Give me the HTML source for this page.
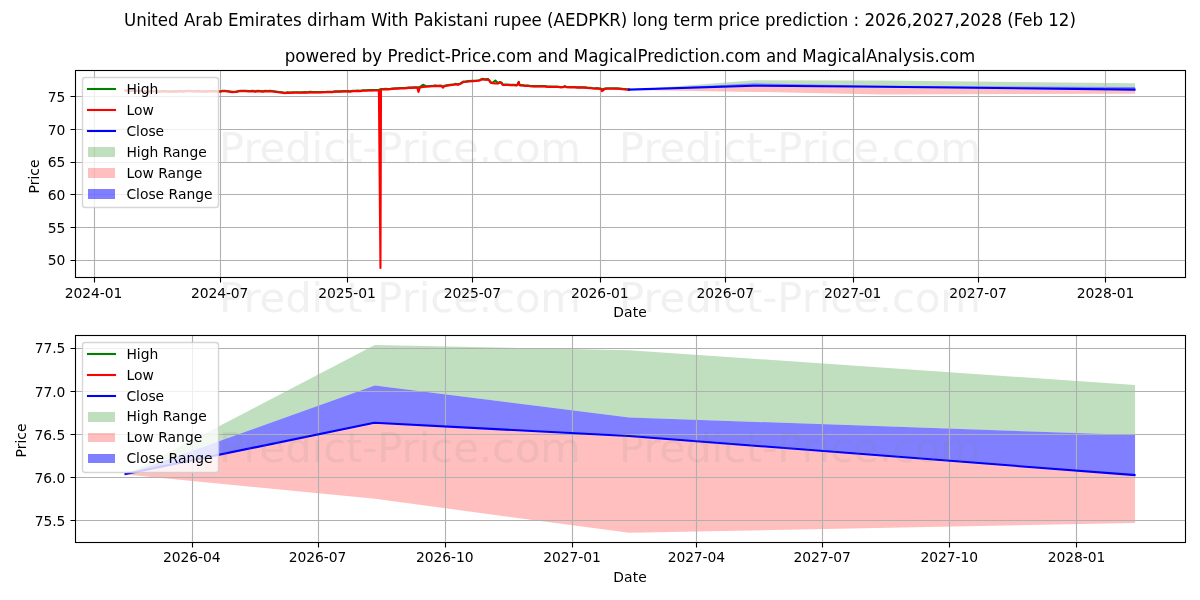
<!DOCTYPE html>
<html lang="en"><head><meta charset="utf-8">
<title>United Arab Emirates dirham With Pakistani rupee (AEDPKR) long term price prediction</title>
<style>html,body{margin:0;padding:0;background:#fff;width:1200px;height:600px;overflow:hidden}svg{display:block;will-change:transform;filter:opacity(1);font-family:"DejaVu Sans","Liberation Sans",sans-serif}text{fill:#000}.tk{font-size:13.889px}.tt{font-size:16.667px}.wm{font-size:41.667px;fill:#808080;fill-opacity:.11}.sp{stroke:#000;stroke-width:1.111;fill:none;stroke-linecap:square}.gr{stroke:#b0b0b0;stroke-width:1.111;fill:none}.ln{fill:none;stroke-width:2.083;stroke-linejoin:round;stroke-linecap:square}</style></head><body>
<svg width="1200" height="600" viewBox="0 0 1200 600">
<rect width="1200" height="600" fill="#fff"/>
<clipPath id="ctop"><rect x="75.03" y="70.33" width="1109.97" height="206.56"/></clipPath>
<g clip-path="url(#ctop)">
<g transform="translate(.5 .5)">
<polygon points="628.98,89.56 753.64,79.72 881.07,80.11 1134.55,82.76 1134.55,86.57 881.07,85.22 753.64,82.8 628.98,89.56" fill="#008000" fill-opacity=".25"/>
<polygon points="628.98,89.56 753.64,85.67 881.07,86.67 1134.55,89.64 1134.55,93.24 881.07,93.99 753.64,91.41 628.98,89.56" fill="#ff0000" fill-opacity=".25"/>
<polygon points="628.98,89.56 753.64,82.8 881.07,85.22 1134.55,86.57 1134.55,89.64 881.07,86.67 753.64,85.67 628.98,89.56" fill="#0000ff" fill-opacity=".5"/>
</g>
<path class="gr" d="M94.5 70.33V276.89M220.5 70.33V276.89M347.5 70.33V276.89M472.5 70.33V276.89M600.5 70.33V276.89M725.5 70.33V276.89M853.5 70.33V276.89M978.5 70.33V276.89M1105.5 70.33V276.89M75.03 260.5H1185M75.03 227.5H1185M75.03 194.5H1185M75.03 162.5H1185M75.03 129.5H1185M75.03 96.5H1185"/>
<polyline class="ln" stroke="#008000" points="125.5,90.18 127.75,90.2 130,90.23 132.5,90.6 135,90.49 137.33,90.8 139.67,90.82 142,90.79 144.67,91.05 147.33,90.91 150,91.15 152.5,91.02 155,91.05 157.5,91.22 160,91.42 162.5,91.09 165,91.11 167.5,91.26 170,91.38 172.5,91.19 175,91.08 177.5,91.31 180,90.88 182.5,91.21 185,90.94 187.5,90.85 190,90.81 192.5,90.92 195,91.17 197.5,90.91 200,91.12 202.5,91.17 205,91.07 207.5,91.18 210,90.99 212.67,90.99 215.33,91.05 218,91.26 220,91.25 222.5,90.9 225,90.82 228,91.16 232,91.69 236,91.61 238.5,91.07 240,90.67 243,90.81 246,90.79 248.25,91 250.5,90.98 252.75,90.84 255,91.19 257.67,90.85 260.33,91.01 263,91.19 265.33,90.89 267.67,91.01 270,90.78 274,91.25 278,91.9 282,92.31 285,92.75 287.5,92.4 290,92.47 292.5,92.37 295,92.32 297.33,92.23 299.67,92.36 302,92.38 304.67,92.14 307.33,92.19 310,91.89 313,92.12 316,92.04 319,92.1 322,91.92 326,91.89 330,91.73 332.5,91.7 335,91.27 338,91.41 341,91.23 344,91.16 347,91.09 350,91.2 353,90.72 355.33,90.67 357.67,90.63 360,90.74 363,90.25 366,90.26 369,90.15 372,90.15 375.25,90.07 378.5,90.04 381.2,89.08 383.47,89.01 385.73,88.85 388,88.95 390.33,88.88 392.67,88.43 395,88.34 397.33,88.23 399.67,88.1 402,88.07 404.33,87.99 406.67,87.71 409,87.46 412,87.44 415,87.22 417.3,87.41 419.8,87.18 423,84.78 426,86.29 430,86.03 432.5,85.91 435,85.48 437.5,85.71 440,85.5 441.8,85.84 443,87.21 444.3,85.73 447,85.24 450,84.91 452.65,84.64 455.3,83.89 458,84.39 460,83.65 463.3,81.63 466,81.41 469,81.08 472.7,80.86 476,80.63 478.5,80.3 480,80.02 482,78.87 485,79.34 488,79.13 489.3,80.23 490.7,82.37 492.7,82.71 495.3,80.64 498,83.11 499,82.53 500,82 501.3,82.47 502.7,84.47 505,84.5 507.5,84.55 510,84.71 514,84.88 516.7,85.12 517.8,84.03 518.7,81.77 519.5,84.58 520.3,85.09 522.65,85.12 525,85.5 527.5,85.42 530,85.79 532.5,86.09 535,86.14 537.5,86.12 540,85.97 542.5,86.12 545,86.13 547.5,86.5 550,86.49 552.5,86.65 555,86.51 557.5,86.56 560,86.92 563.5,86.79 564.8,86.04 566,86.71 570,86.92 572.5,87.04 575,86.96 577.5,87.19 580,87.22 582.5,87.22 585,87.37 587.5,87.58 590,87.67 592.5,88.01 595,88.28 597.5,88.16 600,88.47 601.3,88.79 602,89.6 605,88.48 607.5,88.27 610,88.26 612.5,88.31 615,88.35 617.5,88.4 620,88.63 622.5,88.91 625,89.03 628.98,89.34"/>
<polyline class="ln" stroke="#ff0000" points="125.5,90.6 127.75,90.62 130,90.65 132.5,91.02 135,90.91 137.33,91.22 139.67,91.24 142,91.21 144.67,91.47 147.33,91.33 150,91.57 152.5,91.44 155,91.47 157.5,91.64 160,91.84 162.5,91.51 165,91.53 167.5,91.68 170,91.8 172.5,91.61 175,91.5 177.5,91.73 180,91.3 182.5,91.63 185,91.36 187.5,91.27 190,91.23 192.5,91.34 195,91.59 197.5,91.33 200,91.54 202.5,91.59 205,91.49 207.5,91.6 210,91.41 212.67,91.41 215.33,91.47 218,91.68 220,91.67 222.5,91.32 225,91.24 228,91.58 232,92.11 236,92.03 238.5,91.49 240,91.09 243,91.23 246,91.21 248.25,91.42 250.5,91.4 252.75,91.26 255,91.61 257.67,91.27 260.33,91.43 263,91.61 265.33,91.31 267.67,91.43 270,91.2 274,91.67 278,92.32 282,92.73 285,93.17 287.5,92.82 290,92.89 292.5,92.79 295,92.74 297.33,92.65 299.67,92.78 302,92.8 304.67,92.56 307.33,92.61 310,92.31 313,92.54 316,92.46 319,92.52 322,92.34 326,92.31 330,92.15 332.5,92.12 335,91.69 338,91.83 341,91.65 344,91.58 347,91.51 350,91.62 353,91.14 355.33,91.09 357.67,91.05 360,91.16 363,90.67 366,90.68 369,90.57 372,90.57 375.25,90.49 378.5,90.46 378.9,90.5 380.45,267.9 381,89.7 381.2,89.5 383.47,89.43 385.73,89.27 388,89.37 390.33,89.3 392.67,88.85 395,88.76 397.33,88.65 399.67,88.52 402,88.49 404.33,88.41 406.67,88.13 409,87.88 412,87.86 415,87.64 417.3,87.83 418.5,92 419.8,87.6 423,86.88 426,86.71 430,86.45 432.5,86.33 435,85.9 437.5,86.13 440,85.92 441.8,86.26 443,87.63 444.3,86.15 447,85.66 450,85.33 452.65,85.06 455.3,84.31 458,84.81 460,84.07 463.3,82.05 466,81.83 469,81.5 472.7,81.28 476,81.05 478.5,80.72 480,80.44 482,79.29 485,79.76 488,79.55 489.3,80.65 490.7,82.79 492.7,83.13 495.3,83.44 498,83.53 499,82.95 500,82.42 501.3,82.89 502.7,84.89 505,84.92 507.5,84.97 510,85.13 514,85.3 516.7,85.54 517.8,84.45 518.7,82.19 519.5,85 520.3,85.51 522.65,85.54 525,85.92 527.5,85.84 530,86.21 532.5,86.51 535,86.56 537.5,86.54 540,86.39 542.5,86.54 545,86.55 547.5,86.92 550,86.91 552.5,87.07 555,86.93 557.5,86.98 560,87.34 563.5,87.21 564.8,86.46 566,87.13 570,87.34 572.5,87.46 575,87.38 577.5,87.61 580,87.64 582.5,87.64 585,87.79 587.5,88 590,88.09 592.5,88.43 595,88.7 597.5,88.58 600,88.89 601.3,89.21 602,91.2 605,88.9 607.5,88.69 610,88.68 612.5,88.73 615,88.77 617.5,88.82 620,89.05 622.5,89.33 625,89.45 628.98,89.76"/>
<polyline class="ln" stroke="#0000ff" points="628.98,89.56 753.64,85.67 881.07,86.67 1134.55,89.64"/>
</g>
<path d="M94.5 277.5v5M220.5 277.5v5M347.5 277.5v5M472.5 277.5v5M600.5 277.5v5M725.5 277.5v5M853.5 277.5v5M978.5 277.5v5M1105.5 277.5v5M75.5 260.5h-5M75.5 227.5h-5M75.5 194.5h-5M75.5 162.5h-5M75.5 129.5h-5M75.5 96.5h-5" stroke="#000" stroke-width="1.111" fill="none"/>
<rect class="sp" x="75.5" y="70.5" width="1110" height="207"/>
<rect x="82.5" y="77.5" width="136" height="130" rx="2.78" ry="2.78" fill="#fff" fill-opacity=".8" stroke="#ccc" stroke-opacity=".8" stroke-width="1.389"/>
<path class="ln" stroke="#008000" d="M88 89H115"/>
<path class="ln" stroke="#ff0000" d="M88 110H115"/>
<path class="ln" stroke="#0000ff" d="M88 131H115"/>
<rect x="88" y="147" width="27" height="10" fill="#008000" fill-opacity=".25"/>
<rect x="88" y="168" width="27" height="10" fill="#ff0000" fill-opacity=".25"/>
<rect x="88" y="189" width="27" height="10" fill="#0000ff" fill-opacity=".5"/>
<clipPath id="cbot"><rect x="75.03" y="335.17" width="1109.97" height="206.56"/></clipPath>
<g clip-path="url(#cbot)">
<g transform="translate(.5 .5)">
<polygon points="125.48,474.05 374.29,344.56 628.63,349.72 1134.55,384.5 1134.55,434.61 628.63,416.96 374.29,385.11 125.48,474.05" fill="#008000" fill-opacity=".25"/>
<polygon points="125.48,474.05 374.29,422.82 628.63,435.99 1134.55,475.08 1134.55,522.43 628.63,532.33 374.29,498.32 125.48,474.05" fill="#ff0000" fill-opacity=".25"/>
<polygon points="125.48,474.05 374.29,385.11 628.63,416.96 1134.55,434.61 1134.55,475.08 628.63,435.99 374.29,422.82 125.48,474.05" fill="#0000ff" fill-opacity=".5"/>
</g>
<path class="gr" d="M192.5 335.17V541.72M318.5 335.17V541.72M445.5 335.17V541.72M572.5 335.17V541.72M696.5 335.17V541.72M822.5 335.17V541.72M949.5 335.17V541.72M1076.5 335.17V541.72M75.03 520.5H1185M75.03 477.5H1185M75.03 434.5H1185M75.03 391.5H1185M75.03 348.5H1185"/>
<polyline class="ln" stroke="#0000ff" points="125.48,474.05 374.29,422.82 628.63,435.99 1134.55,475.08"/>
</g>
<path d="M192.5 542.5v5M318.5 542.5v5M445.5 542.5v5M572.5 542.5v5M696.5 542.5v5M822.5 542.5v5M949.5 542.5v5M1076.5 542.5v5M75.5 520.5h-5M75.5 477.5h-5M75.5 434.5h-5M75.5 391.5h-5M75.5 348.5h-5" stroke="#000" stroke-width="1.111" fill="none"/>
<rect class="sp" x="75.5" y="335.5" width="1110" height="207"/>
<rect x="82.5" y="342.5" width="136" height="130" rx="2.78" ry="2.78" fill="#fff" fill-opacity=".8" stroke="#ccc" stroke-opacity=".8" stroke-width="1.389"/>
<path class="ln" stroke="#008000" d="M88 354H115"/>
<path class="ln" stroke="#ff0000" d="M88 375H115"/>
<path class="ln" stroke="#0000ff" d="M88 396H115"/>
<rect x="88" y="412" width="27" height="10" fill="#008000" fill-opacity=".25"/>
<rect x="88" y="433" width="27" height="9" fill="#ff0000" fill-opacity=".25"/>
<rect x="88" y="454" width="27" height="9" fill="#0000ff" fill-opacity=".5"/>
<text class="tk" x="64.87" y="298" textLength="57.5">2024-01</text>
<text class="tk" x="190.98" y="298" textLength="57.38">2024-07</text>
<text class="tk" x="318.35" y="298" textLength="57.5">2025-01</text>
<text class="tk" x="443.77" y="298" textLength="57.38">2025-07</text>
<text class="tk" x="571.07" y="298" textLength="57.62">2026-01</text>
<text class="tk" x="696.49" y="298" textLength="57.5">2026-07</text>
<text class="tk" x="823.92" y="298" textLength="57.5">2027-01</text>
<text class="tk" x="949.34" y="298" textLength="57.38">2027-07</text>
<text class="tk" x="1076.65" y="298" textLength="57.62">2028-01</text>
<text class="tk" x="613.33" y="317" textLength="33.38">Date</text>
<text class="tk" x="47.81" y="265" textLength="17.5">50</text>
<text class="tk" x="47.81" y="233" textLength="17.5">55</text>
<text class="tk" x="47.68" y="200" textLength="17.62">60</text>
<text class="tk" x="47.68" y="167" textLength="17.62">65</text>
<text class="tk" x="47.81" y="135" textLength="17.5">70</text>
<text class="tk" x="47.81" y="102" textLength="17.5">75</text>
<text class="tk" x="39.12" y="193.45" textLength="33.88" transform="rotate(-90 39.12 193.45)">Price</text>
<text class="tt" y="62" transform="matrix(1 0 0 1.07 0 -4.34)"><tspan x="284.83" textLength="71.75">powered</tspan> <tspan x="361.83" textLength="20.38">by</tspan> <tspan x="387.45" textLength="144.75">Predict-Price.com</tspan> <tspan x="537.45" textLength="31.12">and</tspan> <tspan x="573.83" textLength="186.88">MagicalPrediction.com</tspan> <tspan x="765.95" textLength="31.12">and</tspan> <tspan x="802.33" textLength="172.88">MagicalAnalysis.com</tspan></text>
<text class="tk" x="126.42" y="94" textLength="31.88">High</text>
<text class="tk" x="126.42" y="115" textLength="27.38">Low</text>
<text class="tk" x="126.42" y="136" textLength="37.75">Close</text>
<text class="tk" y="157"><tspan x="126.42" textLength="31.88">High</tspan> <tspan x="162.67" textLength="44.12">Range</tspan></text>
<text class="tk" y="178"><tspan x="126.42" textLength="27.38">Low</tspan> <tspan x="158.17" textLength="44.12">Range</tspan></text>
<text class="tk" y="199"><tspan x="126.42" textLength="37.75">Close</tspan> <tspan x="168.54" textLength="44.12">Range</tspan></text>
<text class="tk" x="163.08" y="562" textLength="57.5">2026-04</text>
<text class="tk" x="288.87" y="562" textLength="57.5">2026-07</text>
<text class="tk" x="415.98" y="562" textLength="57.62">2026-10</text>
<text class="tk" x="543.21" y="562" textLength="57.5">2027-01</text>
<text class="tk" x="667.68" y="562" textLength="57.38">2027-04</text>
<text class="tk" x="793.46" y="562" textLength="57.38">2027-07</text>
<text class="tk" x="920.57" y="562" textLength="57.5">2027-10</text>
<text class="tk" x="1047.68" y="562" textLength="57.62">2028-01</text>
<text class="tk" x="613.33" y="582" textLength="33.38">Date</text>
<text class="tk" x="34.68" y="526" textLength="30.62">75.5</text>
<text class="tk" x="34.56" y="483" textLength="30.75">76.0</text>
<text class="tk" x="34.56" y="440" textLength="30.75">76.5</text>
<text class="tk" x="34.68" y="397" textLength="30.62">77.0</text>
<text class="tk" x="34.68" y="353" textLength="30.62">77.5</text>
<text class="tk" x="26" y="457.38" textLength="33.88" transform="rotate(-90 26 457.38)">Price</text>
<text class="tk" x="126.42" y="359" textLength="31.88">High</text>
<text class="tk" x="126.42" y="380" textLength="27.38">Low</text>
<text class="tk" x="126.42" y="401" textLength="37.75">Close</text>
<text class="tk" y="421"><tspan x="126.42" textLength="31.88">High</tspan> <tspan x="162.67" textLength="44.12">Range</tspan></text>
<text class="tk" y="442"><tspan x="126.42" textLength="27.38">Low</tspan> <tspan x="158.17" textLength="44.12">Range</tspan></text>
<text class="tk" y="463"><tspan x="126.42" textLength="37.75">Close</tspan> <tspan x="168.54" textLength="44.12">Range</tspan></text>
<text class="tt" y="26" transform="matrix(1 0 0 1.07 0 -1.82)"><tspan x="124" textLength="54.62">United</tspan> <tspan x="183.88" textLength="38.88">Arab</tspan> <tspan x="228" textLength="73.75">Emirates</tspan> <tspan x="307" textLength="58.62">dirham</tspan> <tspan x="370.88" textLength="37.75">With</tspan> <tspan x="413.88" textLength="74.38">Pakistani</tspan> <tspan x="493.5" textLength="48.38">rupee</tspan> <tspan x="547.12" textLength="80.12">(AEDPKR)</tspan> <tspan x="632.5" textLength="35.75">long</tspan> <tspan x="673.5" textLength="39.62">term</tspan> <tspan x="718.38" textLength="41.38">price</tspan> <tspan x="765" textLength="83.25">prediction</tspan> <tspan x="853.5" textLength="5.75">:</tspan> <tspan x="864.5" textLength="137.5">2026,2027,2028</tspan> <tspan x="1007.25" textLength="35.75">(Feb</tspan> <tspan x="1048.25" textLength="27.75">12)</tspan></text>
<text class="wm" x="219.06" y="462" textLength="361.88">Predict-Price.com</text>
<text class="wm" x="219.06" y="312" textLength="361.88">Predict-Price.com</text>
<text class="wm" x="219.06" y="162" textLength="361.88">Predict-Price.com</text>
<text class="wm" x="619.06" y="462" textLength="361.88">Predict-Price.com</text>
<text class="wm" x="619.06" y="312" textLength="361.88">Predict-Price.com</text>
<text class="wm" x="619.06" y="162" textLength="361.88">Predict-Price.com</text>
</svg>
</body></html>
